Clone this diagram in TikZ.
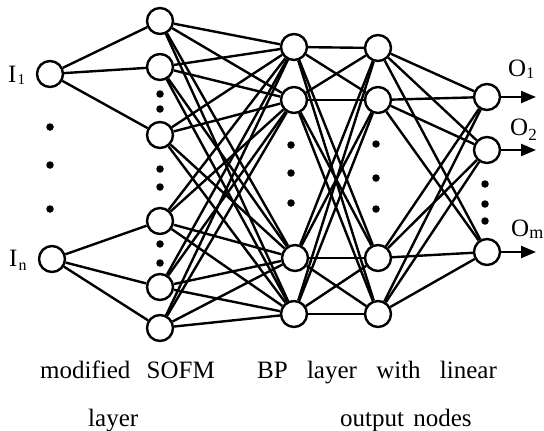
\documentclass[tikz,border=0pt]{standalone}
\usepackage{fontspec}
\setmainfont{Liberation Serif}
\usetikzlibrary{arrows.meta}
\begin{document}
\begin{tikzpicture}[x=1pt,y=-1pt,
  neuron/.style={circle,draw,line width=2.4pt,minimum size=26pt,inner sep=0pt,fill=white},
  link/.style={line width=2.4pt},
  dotmark/.style={circle,fill,inner sep=0pt,minimum size=7.5pt},
  outarrow/.style={line width=2.4pt,-{Triangle[length=15pt,width=12pt]}},
  lbl/.style={font=\fontsize{25}{27}\selectfont,inner sep=0pt,anchor=base west},
  caption/.style={font=\fontsize{25}{27}\selectfont,inner sep=0pt,anchor=base west}
]
\useasboundingbox (0,0) rectangle (544,431);
% input layer
\node[neuron] (i1) at (50,74) {};
\node[neuron] (in) at (52,259) {};
% SOFM layer
\node[neuron] (s1) at (160,21) {};
\node[neuron] (s2) at (160,67) {};
\node[neuron] (s3) at (160,135) {};
\node[neuron] (s4) at (160,221) {};
\node[neuron] (s5) at (160,287) {};
\node[neuron] (s6) at (160,328) {};
% BP layer 1
\node[neuron] (h1) at (294,47) {};
\node[neuron] (h2) at (294,100) {};
\node[neuron] (h3) at (295,258) {};
\node[neuron] (h4) at (294,314) {};
% BP layer 2
\node[neuron] (g1) at (378,48) {};
\node[neuron] (g2) at (378,100) {};
\node[neuron] (g3) at (378,258) {};
\node[neuron] (g4) at (378,314) {};
% output layer
\node[neuron] (o1) at (487,97) {};
\node[neuron] (o2) at (487,150) {};
\node[neuron] (o3) at (487,252) {};
% connections
\foreach \b in {1,2,3} \draw[link] (i1) -- (s\b);
\foreach \b in {4,5,6} \draw[link] (in) -- (s\b);
\foreach \a in {1,...,6} \foreach \b in {1,...,4} \draw[link] (s\a) -- (h\b);
\foreach \a in {1,...,4} \foreach \b in {1,...,4} \draw[link] (h\a) -- (g\b);
\foreach \a in {1,...,4} \foreach \b in {1,2,3} \draw[link] (g\a) -- (o\b);
% output arrows
\coordinate (e1) at (536,97);
\coordinate (e2) at (536,150);
\coordinate (e3) at (536,252);
\foreach \b in {1,2,3} \draw[outarrow] (o\b) -- (e\b);
% ellipsis dots
\node[dotmark] (di1) at (50,127) {};
\node[dotmark] (di2) at (50,165) {};
\node[dotmark] (di3) at (50,209) {};
\node[dotmark] (ds1) at (160,94) {};
\node[dotmark] (ds2) at (160,109) {};
\node[dotmark] (ds3) at (160,169) {};
\node[dotmark] (ds4) at (160,187) {};
\node[dotmark] (ds5) at (160,244) {};
\node[dotmark] (ds6) at (160,263) {};
\node[dotmark] (dh1) at (291,145) {};
\node[dotmark] (dh2) at (291,173) {};
\node[dotmark] (dh3) at (291,203) {};
\node[dotmark] (dg1) at (376,144) {};
\node[dotmark] (dg2) at (376,178) {};
\node[dotmark] (dg3) at (376,209) {};
\node[dotmark] (do1) at (485,184) {};
\node[dotmark] (do2) at (485,204) {};
\node[dotmark] (do3) at (485,221) {};
% labels
\node[lbl] (li1) at (8,82) {I\kern1pt\raisebox{-2pt}{\fontsize{15}{15}\selectfont 1}};
\node[lbl] (lin) at (9,266) {I\kern1pt\raisebox{-4pt}{\fontsize{16}{16}\selectfont n}};
\node[lbl] (lo1) at (508,76) {O\raisebox{-2pt}{\fontsize{16}{16}\selectfont 1}};
\node[lbl] (lo2) at (510,135) {O\raisebox{-5pt}{\fontsize{17}{17}\selectfont 2}};
\node[lbl] (lom) at (511,236) {O\raisebox{-2pt}{\fontsize{18}{18}\selectfont m}};
% captions
\node[caption] (c1) at (40,378) {modified\hspace{10pt} SOFM};
\node[caption] (c2) at (88,426) {layer};
\node[caption] (c3) at (257,378) {BP\hspace{13pt} layer\hspace{13pt} with\hspace{13pt} linear};
\node[caption] (c4) at (340,426) {output\hspace{3pt} nodes};
\end{tikzpicture}
\end{document}
